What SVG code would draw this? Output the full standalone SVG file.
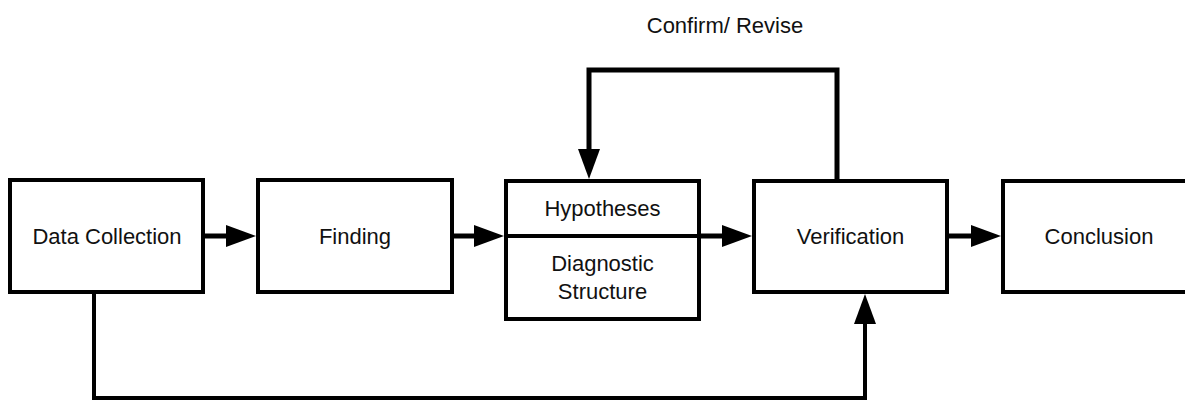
<svg xmlns="http://www.w3.org/2000/svg" width="1185" height="401" viewBox="0 0 1185 401">
  <style>
    .box { fill: #ffffff; stroke: #000000; stroke-width: 4; stroke-linejoin: miter; }
    .lbl { font-family: "Liberation Sans", Arial, sans-serif; font-size: 22px; fill: #111111; text-anchor: middle; }
    .wire { fill: none; stroke: #000000; stroke-width: 5; stroke-linejoin: miter; }
  </style>
  <defs>
    <!-- filled arrowhead; tip sits 20px beyond the path end -->
    <marker id="head" viewBox="0 0 30 22" refX="10" refY="11" markerWidth="30" markerHeight="22" markerUnits="userSpaceOnUse" orient="auto">
      <path d="M0,0 L30,11 L0,22 Z" fill="#000000"/>
    </marker>
  </defs>

  <rect width="1185" height="401" fill="#ffffff"/>

  <g id="connectors">
    <path class="wire" d="M203,236 H236" marker-end="url(#head)"/>
    <path class="wire" d="M452,236 H484" marker-end="url(#head)"/>
    <path class="wire" d="M699,236 H732" marker-end="url(#head)"/>
    <path class="wire" d="M947,236 H981" marker-end="url(#head)"/>
    <!-- confirm / revise loop back to hypotheses -->
    <path class="wire" d="M837,181 V70 H589 V159" marker-end="url(#head)"/>
    <!-- data collection straight to verification -->
    <path class="wire" style="stroke-width:4" d="M94,292 V398 H865 V314" marker-end="url(#head)"/>
    <text class="lbl" x="725" y="33">Confirm/ Revise</text>
  </g>

  <g id="data-collection">
    <rect class="box" x="10" y="180" width="193" height="112"/>
    <text class="lbl" x="107" y="244">Data Collection</text>
  </g>

  <g id="finding">
    <rect class="box" x="258" y="180" width="194" height="112"/>
    <text class="lbl" x="355" y="244">Finding</text>
  </g>

  <g id="hypotheses">
    <rect class="box" x="506" y="181" width="193" height="138"/>
    <line x1="506" y1="236" x2="699" y2="236" stroke="#000000" stroke-width="4"/>
    <text class="lbl" x="602.5" y="216">Hypotheses</text>
    <text class="lbl" x="602.5" y="271">Diagnostic</text>
    <text class="lbl" x="602.5" y="299">Structure</text>
  </g>

  <g id="verification">
    <rect class="box" x="754" y="181" width="193" height="111"/>
    <text class="lbl" x="850.5" y="244">Verification</text>
  </g>

  <g id="conclusion">
    <rect class="box" x="1003" y="181" width="193" height="111"/>
    <text class="lbl" x="1099" y="244">Conclusion</text>
  </g>
</svg>
